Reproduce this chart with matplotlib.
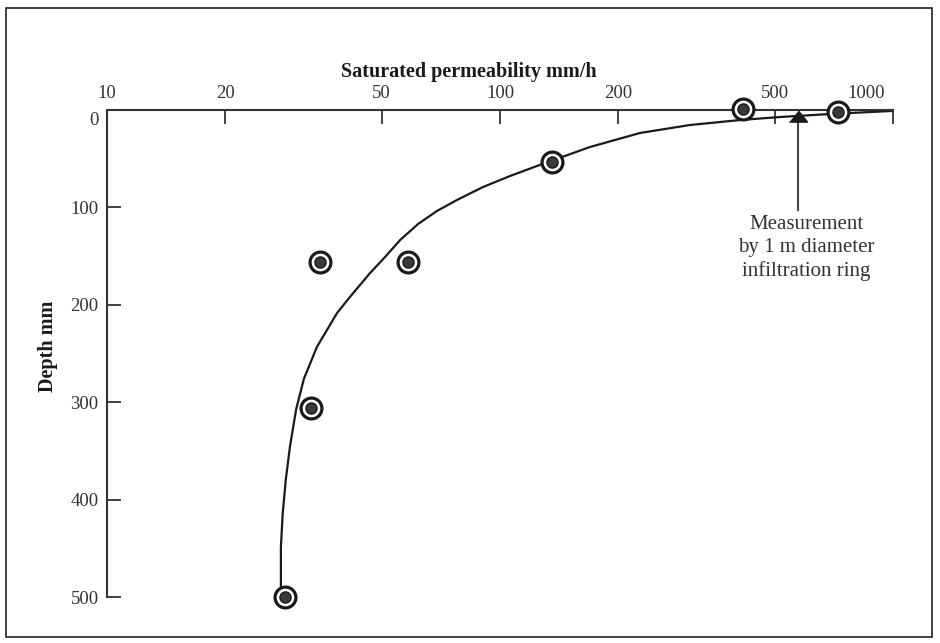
import numpy as np
import matplotlib.pyplot as plt
from matplotlib.patches import Rectangle
from matplotlib.transforms import ScaledTranslation

# measured points (permeability mm/h, depth mm)
perm = [28.4, 33.0, 34.8, 58.3, 135.5, 415, 724]
depth = [500, 306, 156, 156, 53, -1, 2]

# fitted curve
curve_perm = [27.7, 27.7, 27.7, 28.0, 28.5, 29.2, 30.3, 31.7, 34.2,
              38.5, 41.5, 46.7, 51.0, 55.7, 61.9, 69.1, 77.7, 90.5, 106.0,
              124.2, 136.4, 146.3, 169.4, 227.1, 304.4, 408.1, 515.9, 691.4, 994]
curve_depth = [500, 482.5, 448.7, 413.8, 379.9, 346.0, 307.0, 276.0, 243.3,
               208.4, 192.0, 167.4, 150.9, 133.5, 117.0, 103.7, 92.4, 79.1, 67.8,
               57.5, 51.3, 47.2, 38.0, 23.6, 15.4, 10.3, 7.2, 4.1, 1.0]

# ring measurement
ring_perm = 573
ring_depth = 6
arrow_end = 103

xticks = [10, 20, 50, 100, 200, 500, 1000]
yticks = [0, 100, 200, 300, 400, 500]

plt.rcParams['font.family'] = ['Liberation Serif', 'DejaVu Serif']
dark = '#333333'

fig = plt.figure(figsize=(9.4, 6.43), dpi=100)
ax = fig.add_axes([107/940, 1-597/643, (893-107)/940, (597-110)/643])

ax.plot(curve_perm, curve_depth, color='#1a1a1a', lw=1.6, zorder=2,
        solid_joinstyle='round', clip_on=False)
ax.plot(perm, depth, 'o', ms=15, mfc='white', mec='#1a1a1a', mew=2.3, ls='none',
        zorder=3, clip_on=False)
ax.plot(perm, depth, 'o', ms=8, mfc='#3a3a3a', mec='#1a1a1a', mew=1, ls='none',
        zorder=4, clip_on=False)

ax.plot([ring_perm, ring_perm], [ring_depth, arrow_end], color='#444444', lw=1.5, zorder=2)
ax.plot([ring_perm], [ring_depth], marker=[(-1, -0.62), (1, -0.62), (0, 0.62)], ms=13,
        color='#1a1a1a', zorder=3, clip_on=False)
ax.text(601, 142, 'Measurement\nby 1 m diameter\ninfiltration ring', ha='center', va='center',
        fontsize=15, color=dark, linespacing=1.28)

ax.set_xscale('log')
ax.set_xlim(10, 1000)
ax.set_ylim(500, 0)
ax.set_xticks(xticks)
ax.set_xticklabels([str(t) for t in xticks])
ax.minorticks_off()
ax.set_yticks(yticks)
ax.xaxis.tick_top()
ax.tick_params(axis='x', direction='in', length=10, width=1.3, colors=dark, labelsize=13.5, pad=6)
ax.tick_params(axis='y', direction='in', length=10, width=1.3, colors=dark, labelsize=13.5, pad=6)
for s in ['right', 'bottom']:
    ax.spines[s].set_visible(False)
for s in ['left', 'top']:
    ax.spines[s].set_color(dark)
    ax.spines[s].set_linewidth(1.5)
ax.patch.set_visible(False)

# small label nudges as in the original
lab0 = ax.get_yticklabels()[0]
lab0.set_transform(lab0.get_transform() + ScaledTranslation(0, -6/72, fig.dpi_scale_trans))
lab1000 = ax.get_xticklabels()[-1]
lab1000.set_transform(lab1000.get_transform() + ScaledTranslation(-19/72, 0, fig.dpi_scale_trans))

fig.text(469/940, 1-72/643, 'Saturated permeability mm/h', ha='center', va='center',
         fontsize=14.5, fontweight='bold', color='#1a1a1a')
fig.text(48/940, 1-346/643, 'Depth mm', ha='center', va='center', rotation=90,
         fontsize=14.5, fontweight='bold', color='#1a1a1a')

fig.patches.append(Rectangle((6/940, 1-637/643), (932-6)/940, (637-8)/643,
                             transform=fig.transFigure, fill=False, ec='#222222', lw=1.2))

fig.savefig('out.png', dpi=100)
